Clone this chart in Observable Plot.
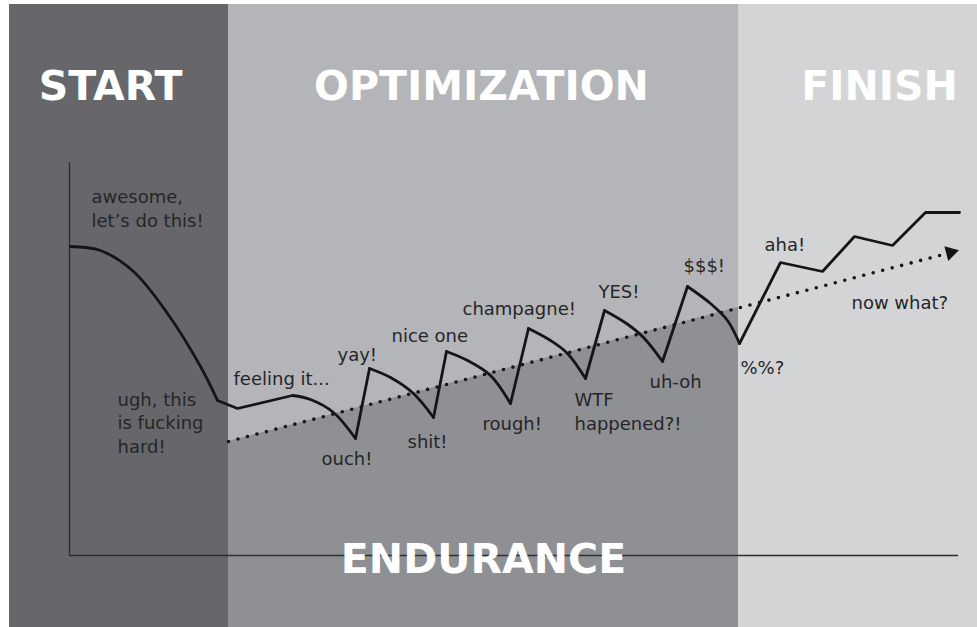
<!DOCTYPE html>
<html><head><meta charset="utf-8">
<script src="https://cdn.jsdelivr.net/npm/d3@7"></script>
<script src="https://cdn.jsdelivr.net/npm/@observablehq/plot@0.6"></script>
<style>html,body{margin:0;padding:0;background:#fff;} #chart svg{display:block;}</style>
</head><body><div id="chart"></div>
<script>
// Phases along the endurance axis
const phaseNames = ["START", "OPTIMIZATION", "FINISH"];
const phaseStart = [-60, 159, 669];
const phaseEnd = [159, 669, 908];
const phaseTitleX = [41, 412, 810];
const phaseColors = ["#67676b", "#b4b5b8", "#d3d4d6"];
const moodTop = 551, moodBottom = -72, titleMood = 456;

// Mood journey: falling arcs (smooth) and climbs (straight)
const arcs = [
  [[1,309],[31,305],[64,284],[98,242],[131,189],[148,155]],
  [[223,160],[241,156],[264,143],[286,117]],
  [[300,187],[321,178],[344,162],[364,138]],
  [[377,204],[398,195],[421,180],[441,152]],
  [[459,227],[481,215],[498,202],[516,177]],
  [[535,245],[557,232],[574,218],[593,194]],
  [[618,269],[641,252],[658,235],[670,212]]
];
const climbs = [
  [[148,155],[168,147],[223,160]],
  [[286,117],[300,187]],
  [[364,138],[377,204]],
  [[441,152],[459,227]],
  [[516,177],[535,245]],
  [[593,194],[618,269]],
  [[670,212],[711,293],[753,284],[785,319],[823,310],[856,343],[890,343]]
];

// Overall trend (dotted arrow) and its value at the end of optimization
const trend = [[159,114],[889,305]];
const trendShade = [[159,114],[669,248]];

// Annotations (x, baseline of last line)
const labels = [
  {text: "awesome,\nlet’s do this!", x: 22, y: 329},
  {text: "ugh, this\nis fucking\nhard!", x: 48, y: 103},
  {text: "feeling it...", x: 164, y: 171},
  {text: "yay!", x: 268, y: 195},
  {text: "ouch!", x: 252, y: 91},
  {text: "nice one", x: 322, y: 214},
  {text: "shit!", x: 338, y: 108},
  {text: "champagne!", x: 393, y: 241},
  {text: "rough!", x: 413, y: 126},
  {text: "YES!", x: 529, y: 258},
  {text: "WTF\nhappened?!", x: 505, y: 126},
  {text: "$$$!", x: 614, y: 284},
  {text: "uh-oh", x: 580, y: 168},
  {text: "%%?", x: 671, y: 182},
  {text: "aha!", x: 695, y: 305},
  {text: "now what?", x: 782, y: 247}
];
const axisName = "ENDURANCE", axisNameX = 414, axisNameY = -17;
const xAxisEnd = 889, yAxisTop = 393;

const phases = phaseNames.map((name, i) => ({name, x1: phaseStart[i], x2: phaseEnd[i], tx: phaseTitleX[i], fill: phaseColors[i]}));
const arcPts = arcs.flatMap((a, i) => a.map(([x, y]) => ({x, y, id: i})));
const climbPts = climbs.flatMap((a, i) => a.map(([x, y]) => ({x, y, id: i})));
const trendPts = trend.map(([x, y]) => ({x, y}));
const shadePts = trendShade.map(([x, y]) => ({x, y}));

const chart = Plot.plot({
  width: 977, height: 627,
  marginTop: 0, marginRight: 0, marginBottom: 0, marginLeft: 0,
  x: {domain: [-69, 908], axis: null},
  y: {domain: [-72, 555], axis: null},
  style: {background: "#fff", overflow: "visible"},
  marks: [
    Plot.rect(phases, {x1: "x1", x2: "x2", y1: moodBottom, y2: moodTop, fill: d => d.fill}),
    Plot.areaY(shadePts, {x: "x", y1: moodBottom, y2: "y", fill: "#8f9094"}),
    Plot.ruleX([0], {y1: 0, y2: yAxisTop, stroke: "#2d2d30", strokeWidth: 1.4}),
    Plot.ruleY([0], {x1: 0, x2: xAxisEnd, stroke: "#2d2d30", strokeWidth: 1.4}),
    Plot.line(trendPts, {x: "x", y: "y", stroke: "#151515", strokeWidth: 3.6, strokeDasharray: "0,9.8", strokeLinecap: "round"}),
    Plot.dot([trendPts[1]], {x: "x", y: "y", symbol: "triangle", r: 5.6, fill: "#151515", stroke: "none", rotate: 75, dx: -8, dy: 2}),
    Plot.line(arcPts, {x: "x", y: "y", z: "id", curve: "catmull-rom", stroke: "#151515", strokeWidth: 2.8, strokeLinejoin: "round"}),
    Plot.line(climbPts, {x: "x", y: "y", z: "id", stroke: "#151515", strokeWidth: 2.8, strokeLinejoin: "miter"}),
    Plot.text(labels, {x: "x", y: "y", text: "text", textAnchor: "start", lineAnchor: "bottom", lineHeight: 1.28,
      fontSize: 18, fontFamily: "DejaVu Sans", fill: "#262628"}),
    Plot.text(phases, {x: "tx", y: titleMood, text: "name", textAnchor: "middle", lineAnchor: "bottom",
      fontSize: 41, fontWeight: "bold", fontFamily: "DejaVu Sans", fill: "#ffffff"}),
    Plot.text([axisName], {x: axisNameX, y: axisNameY, text: d => d, textAnchor: "middle", lineAnchor: "bottom",
      fontSize: 41, fontWeight: "bold", fontFamily: "DejaVu Sans", fill: "#ffffff"})
  ]
});
document.getElementById("chart").appendChild(chart);
</script></body></html>
